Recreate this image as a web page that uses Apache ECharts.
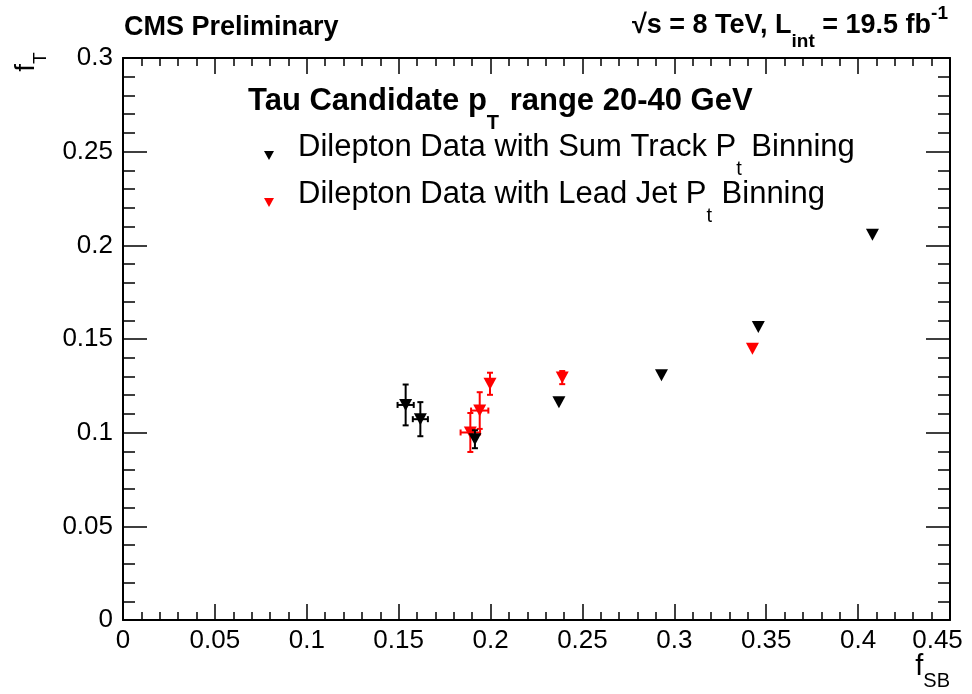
<!DOCTYPE html>
<html>
<head>
<meta charset="utf-8">
<script src="https://cdn.jsdelivr.net/npm/echarts@6/dist/echarts.min.js"></script>
<style>
  html, body { margin: 0; padding: 0; background: #fff; }
  #chart { width: 972px; height: 694px; }
</style>
</head>
<body>
<div id="chart"></div>
<script>
// f_SB / f_T values, Dilepton Data with Sum Track Pt binning (black)
const sumTrackX    = [0.1538, 0.1618, 0.1915, 0.2372, 0.2930, 0.3457, 0.4078];
const sumTrackY    = [0.1148, 0.1072, 0.0965, 0.1162, 0.1307, 0.1564, 0.2057];
const sumTrackXErr = [0.0044, 0.0041, 0.0020, 0.0010, 0.0008, 0.0008, 0.0008];
const sumTrackYErr = [0.0109, 0.0091, 0.0048, 0.0015, 0.0012, 0.0012, 0.0012];

// Dilepton Data with Lead Jet Pt binning (red)
const leadJetX    = [0.1890, 0.1941, 0.1997, 0.2390, 0.3425];
const leadJetY    = [0.1001, 0.1118, 0.1261, 0.1294, 0.1448];
const leadJetXErr = [0.0053, 0.0047, 0.0027, 0.0010, 0.0008];
const leadJetYErr = [0.0104, 0.0098, 0.0059, 0.0035, 0.0012];

const NAME_SUM = 'Dilepton Data with Sum Track Pt Binning';
const NAME_JET = 'Dilepton Data with Lead Jet Pt Binning';

const FONT = '"Liberation Sans", Arial, Helvetica, sans-serif';
const TRI_DOWN = 'path://M0,0L10,0L5,9Z';

const chart = echarts.init(document.getElementById('chart'));

// rows [x, y, ex, ey] for each series
const rows = (xs, ys, exs, eys) => xs.map((x, i) => [x, ys[i], exs[i], eys[i]]);

// error bars with end caps; bars hidden under the marker are skipped (as ROOT does)
const errorBars = (color) => (params, api) => {
  const x = api.value(0), y = api.value(1), ex = api.value(2), ey = api.value(3);
  const c = api.coord([x, y]);
  const top = api.coord([x, y + ey])[1];
  const bot = api.coord([x, y - ey])[1];
  const left = api.coord([x - ex, y])[0];
  const right = api.coord([x + ex, y])[0];
  const cap = 3;
  const style = {stroke: color, lineWidth: 2};
  const seg = (x1, y1, x2, y2) => ({type: 'line', shape: {x1, y1, x2, y2}, style});
  const kids = [];
  if ((bot - top) / 2 > 5) {
    kids.push(seg(c[0], top, c[0], bot),
      seg(c[0] - cap, top, c[0] + cap, top),
      seg(c[0] - cap, bot, c[0] + cap, bot));
  }
  if ((right - left) / 2 > 5) {
    kids.push(seg(left, c[1], right, c[1]),
      seg(left, c[1] - cap, left, c[1] + cap),
      seg(right, c[1] - cap, right, c[1] + cap));
  }
  return {type: 'group', children: kids};
};

const legendText = {
  [NAME_SUM]: '{f|Dilepton Data with Sum Track P}{s|t}{a| Binning}',
  [NAME_JET]: '{f|Dilepton Data with Lead Jet P}{s|t}{a| Binning}'
};

const tickLabel = {color: '#000', fontSize: 26, fontFamily: FONT};

const option = {
  animation: false,
  backgroundColor: '#fff',
  grid: {left: 123, right: 22, top: 58, bottom: 74},
  xAxis: [{
    type: 'value', min: 0, max: 0.45, interval: 0.05,
    axisLine: {lineStyle: {color: '#000', width: 2}},
    axisTick: {inside: true, length: 16, lineStyle: {color: '#000', width: 1.5}},
    minorTick: {show: true, splitNumber: 5, length: 8, lineStyle: {color: '#000', width: 1.5}},
    splitLine: {show: false},
    axisLabel: {
      ...tickLabel, margin: 8, showMinLabel: true, showMaxLabel: true,
      formatter: v => (Math.abs(v - 0.45) < 1e-9 ? '{m|0.45}' : String(+v.toFixed(2))),
      rich: {m: {...tickLabel, padding: [0, 25, 0, 0]}}
    }
  }, {
    type: 'value', position: 'top', min: 0, max: 0.45, interval: 0.05,
    axisLine: {onZero: false, lineStyle: {color: '#000', width: 2}},
    axisTick: {inside: true, length: 16, lineStyle: {color: '#000', width: 1.5}},
    minorTick: {show: true, splitNumber: 5, length: 8, lineStyle: {color: '#000', width: 1.5}},
    splitLine: {show: false},
    axisLabel: {show: false}
  }],
  yAxis: [{
    type: 'value', min: 0, max: 0.3, interval: 0.05,
    axisLine: {show: true, lineStyle: {color: '#000', width: 2}},
    axisTick: {show: true, inside: true, length: 24, lineStyle: {color: '#000', width: 1.5}},
    minorTick: {show: true, splitNumber: 5, length: 12, lineStyle: {color: '#000', width: 1.5}},
    splitLine: {show: false},
    axisLabel: {...tickLabel, margin: 10, showMinLabel: true, showMaxLabel: true,
      formatter: v => String(+v.toFixed(2))}
  }, {
    type: 'value', position: 'right', min: 0, max: 0.3, interval: 0.05,
    axisLine: {show: true, onZero: false, lineStyle: {color: '#000', width: 2}},
    axisTick: {show: true, inside: true, length: 24, lineStyle: {color: '#000', width: 1.5}},
    minorTick: {show: true, splitNumber: 5, length: 12, lineStyle: {color: '#000', width: 1.5}},
    splitLine: {show: false},
    axisLabel: {show: false}
  }],
  legend: {
    data: [NAME_SUM, NAME_JET],
    orient: 'vertical',
    left: 264, top: 132,
    padding: 0, itemGap: 0,
    itemWidth: 10, itemHeight: 9,
    icon: TRI_DOWN,
    selectedMode: false,
    itemStyle: {opacity: 1},
    formatter: name => legendText[name],
    textStyle: {
      color: '#000', fontFamily: FONT,
      rich: {
        f: {fontSize: 31, lineHeight: 31, fontFamily: FONT, color: '#000', padding: [0, 0, 16, 19]},
        a: {fontSize: 31, lineHeight: 31, fontFamily: FONT, color: '#000', padding: [0, 0, 16, 0]},
        s: {fontSize: 20, lineHeight: 20, fontFamily: FONT, color: '#000', padding: [27, 1, 0, 0]}
      }
    }
  },
  graphic: [
    {
      type: 'text', left: 124, top: 14,
      style: {text: 'CMS Preliminary', font: 'bold 27px ' + FONT, fill: '#000'}
    },
    {
      type: 'text', x: 948, y: 26,
      style: {
        text: '{b|√s = 8 TeV, L}{s|int}{b| = 19.5 fb}{p|-1}',
        align: 'right', verticalAlign: 'middle',
        rich: {
          b: {font: 'bold 27px ' + FONT, fill: '#000'},
          s: {font: 'bold 19px ' + FONT, fill: '#000', padding: [32, 0, 0, 0]},
          p: {font: 'bold 19px ' + FONT, fill: '#000', padding: [0, 0, 24, 0]}
        }
      }
    },
    {
      type: 'text', x: 248, y: 101,
      style: {
        text: '{b|Tau Candidate p}{s|T}{b| range 20-40 GeV}',
        verticalAlign: 'middle',
        rich: {
          b: {font: 'bold 31px ' + FONT, fill: '#000'},
          s: {font: 'bold 20px ' + FONT, fill: '#000', padding: [44, 2, 0, 0]}
        }
      }
    },
    {
      type: 'text', x: 26, y: 62, rotation: Math.PI / 2,
      style: {
        text: '{b|f}{s|T}',
        align: 'center', verticalAlign: 'middle',
        rich: {
          b: {font: '28px ' + FONT, fill: '#000'},
          s: {font: '19px ' + FONT, fill: '#000', padding: [30, 0, 0, 0]}
        }
      }
    },
    {
      type: 'text', x: 950, y: 667,
      style: {
        text: '{b|f}{s|SB}',
        align: 'right', verticalAlign: 'middle',
        rich: {
          b: {font: '29px ' + FONT, fill: '#000'},
          s: {font: '20px ' + FONT, fill: '#000', padding: [28, 0, 0, 0]}
        }
      }
    }
  ],
  series: [
    {
      name: 'Lead Jet errors', type: 'custom',
      data: rows(leadJetX, leadJetY, leadJetXErr, leadJetYErr),
      encode: {x: 0, y: 1},
      renderItem: errorBars('#ff0000'), z: 2
    },
    {
      name: NAME_JET, type: 'scatter',
      data: leadJetX.map((x, i) => [x, leadJetY[i]]),
      symbol: TRI_DOWN, symbolSize: [13, 12],
      itemStyle: {color: '#ff0000', opacity: 1}, z: 3
    },
    {
      name: 'Sum Track errors', type: 'custom',
      data: rows(sumTrackX, sumTrackY, sumTrackXErr, sumTrackYErr),
      encode: {x: 0, y: 1},
      renderItem: errorBars('#000'), z: 4
    },
    {
      name: NAME_SUM, type: 'scatter',
      data: sumTrackX.map((x, i) => [x, sumTrackY[i]]),
      symbol: TRI_DOWN, symbolSize: [13, 12],
      itemStyle: {color: '#000', opacity: 1}, z: 5
    }
  ]
};

chart.setOption(option);
</script>
</body>
</html>
